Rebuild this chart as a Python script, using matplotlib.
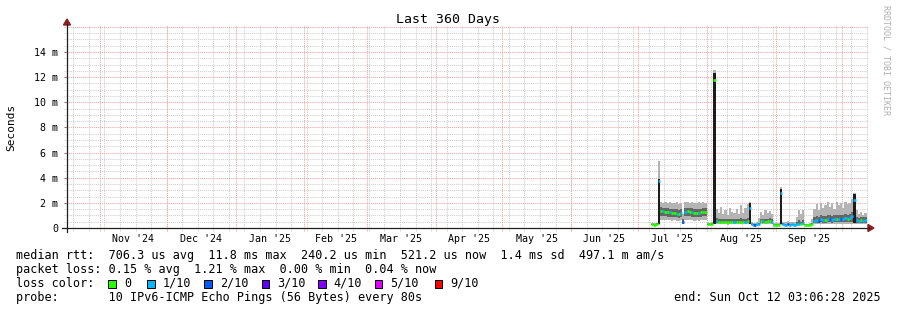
import datetime as dt
import matplotlib
matplotlib.use("Agg")
import matplotlib.pyplot as plt
import matplotlib.dates as mdates
from matplotlib.patches import Polygon, Rectangle
from matplotlib.lines import Line2D
import numpy as np

plt.rcParams['font.family'] = 'DejaVu Sans Mono'

W, H = 897, 310

# one value per day, 2025-07-07 .. 2025-10-11, in ms
median = [0.28, 0.27, 0.28, 3.70, 1.35, 1.33, 1.30, 1.28, 1.25, 1.22,
          1.18, 1.15, 1.12, 1.18, 0.50, 1.30, 1.32, 1.28, 1.25, 1.22,
          1.20, 1.22, 1.25, 1.28, 1.30, 0.30, 0.28, 0.30, 11.8, 0.55,
          0.48, 0.50, 0.47, 0.49, 0.46, 0.48, 0.50, 0.47, 0.49, 0.48,
          0.50, 0.47, 0.49, 0.55, 1.60, 0.28, 0.27, 0.28, 0.30, 0.52,
          0.55, 0.50, 0.53, 0.56, 0.50, 0.26, 0.25, 0.26, 2.80, 0.28,
          0.27, 0.28, 0.27, 0.28, 0.27, 0.30, 0.35, 0.32, 0.38, 0.24,
          0.23, 0.24, 0.30, 0.55, 0.62, 0.58, 0.70, 0.65, 0.60, 0.68,
          0.72, 0.66, 0.70, 0.75, 0.68, 0.72, 0.70, 0.78, 0.72, 0.80,
          0.95, 2.20, 0.65, 0.55, 0.62, 0.58, 0.60]
loss = [0, 0, 0, 1, 0, 1, 0, 0, 1, 0,
        0, 1, 0, 1, 2, 1, 0, 0, 1, 0,
        0, 1, 0, 0, 0, 0, 0, 0, 0, 1,
        0, 0, 0, 0, 0, 0, 0, 1, 0, 0,
        0, 0, 1, 0, 1, 1, 2, 1, 1, 0,
        1, 0, 0, 0, 1, 0, 0, 0, 1, 1,
        1, 2, 1, 1, 1, 1, 1, 0, 1, 0,
        0, 0, 0, 1, 1, 2, 1, 1, 0, 1,
        2, 1, 1, 0, 1, 2, 1, 1, 0, 1,
        1, 1, 1, 1, 0, 1, 1]
smoke_lo = [0.24, 0.24, 0.24, 0.26, 0.60, 0.62, 0.60, 0.62, 0.60, 0.58,
            0.60, 0.58, 0.56, 0.60, 0.28, 0.62, 0.62, 0.60, 0.60, 0.58,
            0.60, 0.58, 0.60, 0.62, 0.60, 0.24, 0.24, 0.25, 0.30, 0.30,
            0.28, 0.30, 0.28, 0.28, 0.27, 0.28, 0.30, 0.28, 0.28, 0.28,
            0.30, 0.28, 0.29, 0.30, 0.30, 0.24, 0.24, 0.24, 0.25, 0.28,
            0.30, 0.28, 0.30, 0.30, 0.28, 0.23, 0.23, 0.23, 0.26, 0.24,
            0.24, 0.24, 0.24, 0.24, 0.24, 0.25, 0.26, 0.25, 0.26, 0.22,
            0.22, 0.22, 0.23, 0.30, 0.30, 0.30, 0.32, 0.30, 0.30, 0.32,
            0.32, 0.30, 0.32, 0.33, 0.30, 0.32, 0.32, 0.33, 0.32, 0.33,
            0.35, 0.35, 0.30, 0.30, 0.30, 0.30, 0.30]
smoke_hi = [0.40, 0.38, 0.42, 5.30, 2.05, 2.00, 2.10, 2.00, 2.05, 1.95,
            2.00, 2.05, 1.90, 2.00, 1.10, 2.05, 2.10, 2.00, 2.05, 1.95,
            2.00, 2.05, 2.00, 2.10, 2.00, 0.45, 0.42, 0.50, 12.6, 1.50,
            1.20, 1.70, 1.10, 1.40, 1.00, 1.60, 1.30, 1.20, 1.50, 1.10,
            1.80, 1.20, 1.60, 1.90, 2.05, 0.45, 0.40, 0.50, 0.80, 1.30,
            1.00, 1.40, 1.20, 1.35, 1.10, 0.40, 0.38, 0.42, 3.30, 0.50,
            0.45, 0.55, 0.45, 0.50, 0.48, 0.90, 1.40, 1.10, 1.40, 0.35,
            0.32, 0.36, 0.70, 1.50, 1.90, 1.40, 2.00, 1.60, 1.80, 2.10,
            1.70, 2.00, 1.50, 2.10, 1.80, 2.00, 1.60, 2.10, 1.90, 2.00,
            2.30, 2.80, 1.40, 1.10, 1.30, 1.00, 1.20]
core_lo = [0.26, 0.26, 0.26, 0.30, 0.95, 0.95, 0.92, 0.90, 0.90, 0.88,
           0.85, 0.85, 0.82, 0.85, 0.35, 0.95, 0.95, 0.92, 0.90, 0.90,
           0.88, 0.88, 0.90, 0.92, 0.95, 0.26, 0.26, 0.27, 0.35, 0.40,
           0.38, 0.38, 0.36, 0.37, 0.36, 0.37, 0.38, 0.36, 0.37, 0.36,
           0.38, 0.36, 0.37, 0.40, 0.35, 0.26, 0.25, 0.26, 0.27, 0.36,
           0.38, 0.36, 0.37, 0.38, 0.36, 0.24, 0.24, 0.24, 0.30, 0.26,
           0.25, 0.26, 0.25, 0.26, 0.25, 0.27, 0.30, 0.28, 0.30, 0.23,
           0.23, 0.23, 0.26, 0.40, 0.42, 0.40, 0.45, 0.43, 0.42, 0.44,
           0.45, 0.43, 0.45, 0.46, 0.44, 0.45, 0.45, 0.47, 0.45, 0.48,
           0.50, 0.40, 0.42, 0.40, 0.42, 0.40, 0.41]
core_hi = [0.35, 0.33, 0.36, 3.90, 1.65, 1.60, 1.60, 1.58, 1.55, 1.52,
           1.50, 1.48, 1.45, 1.50, 0.70, 1.62, 1.62, 1.60, 1.58, 1.55,
           1.52, 1.55, 1.55, 1.60, 1.60, 0.35, 0.33, 0.36, 12.3, 0.80,
           0.70, 0.75, 0.70, 0.72, 0.68, 0.74, 0.75, 0.70, 0.73, 0.70,
           0.76, 0.70, 0.74, 0.80, 2.00, 0.34, 0.33, 0.34, 0.40, 0.72,
           0.75, 0.70, 0.74, 0.76, 0.70, 0.30, 0.30, 0.31, 3.10, 0.36,
           0.34, 0.35, 0.33, 0.35, 0.34, 0.45, 0.60, 0.50, 0.65, 0.28,
           0.27, 0.28, 0.40, 0.85, 0.95, 0.90, 1.00, 0.95, 0.92, 1.00,
           1.05, 0.98, 1.00, 1.05, 1.00, 1.05, 1.02, 1.10, 1.05, 1.10,
           1.30, 2.70, 0.90, 0.80, 0.88, 0.85, 0.86]
spike_days = ["2025-07-10", "2025-08-04", "2025-08-20", "2025-09-03", "2025-10-06"]

loss_labels = ["0", "1/10", "2/10", "3/10", "4/10", "5/10", "9/10"]
loss_colors = ["#26ff00", "#00b8ff", "#0059ff", "#5e00ff", "#7e00ff", "#dd00ff", "#ff0000"]
loss_steps = [0, 1, 2, 3, 4, 5, 9]

t_start = dt.datetime(2024, 10, 17, 3, 6, 28)
t_end = dt.datetime(2025, 10, 12, 3, 6, 28)

day0 = dt.datetime(2025, 7, 7)
edges = mdates.date2num([day0 + dt.timedelta(days=i) for i in range(len(median) + 1)])


def fx(x):
    return x / W


def fy(y):
    return 1 - y / H


fig = plt.figure(figsize=(W / 100, H / 100), dpi=100)
fig.patch.set_facecolor("white")
top_px = 25
ax = fig.add_axes([fx(67), fy(228), 800 / W, (228 - top_px) / H])
ymax = (228 - top_px) / 12.571
x0, x1 = mdates.date2num(t_start), mdates.date2num(t_end)
ax.set_xlim(x0, x1)
ax.set_ylim(0, ymax)
for s in ax.spines.values():
    s.set_visible(False)

# grid, light dotted lines
minor_c = "#cfcfcf"
major_c = "#f0a4a4"
ext = 3 * (x1 - x0) / 800
yext = 3 / 12.571


def dotted(xs, ys, col):
    ln = Line2D(xs, ys, color=col, lw=0.75, zorder=1, clip_on=False)
    ln.set_dashes([1.0, 1.0])
    ax.add_line(ln)


for v in np.arange(0.5, ymax, 0.5):
    major = abs(v % 2) < 1e-9
    dotted([x0 - ext, x1], [v, v], major_c if major else minor_c)
weeks = []
d = dt.datetime(2024, 10, 20)
while d < t_end:
    weeks.append(d)
    d += dt.timedelta(days=7)
for w in mdates.date2num(weeks):
    dotted([w, w], [-yext, ymax], minor_c)
months = []
mid_months = []
labels = []
y, m = 2024, 10
while True:
    a = dt.datetime(y, m, 1)
    b = dt.datetime(y + (m == 12), m % 12 + 1, 1)
    if a > t_end:
        break
    if a > t_start:
        months.append(a)
    mid = a + (b - a) / 2
    if t_start < mid < t_end:
        mid_months.append(mid)
        labels.append(a.strftime("%b '%y"))
    y, m = b.year, b.month
for mo in mdates.date2num(months):
    dotted([mo, mo], [-yext, ymax], major_c)

# smoke
ax.stairs(smoke_hi, edges, baseline=smoke_lo, fill=True, color="#b4b4b4", lw=0, zorder=2)
ax.stairs(core_hi, edges, baseline=core_lo, fill=True, color="#666666", lw=0, zorder=3)
spike_idx = [(dt.datetime.strptime(s, "%Y-%m-%d") - day0).days for s in spike_days]
ax.bar(edges[spike_idx], np.array(core_hi)[spike_idx] - np.array(core_lo)[spike_idx],
       bottom=np.array(core_lo)[spike_idx], width=1, align="edge",
       color="#1c1c1c", lw=0, zorder=4)

# median coloured by loss: flat step per day, joined only inside calm runs
med = np.array(median)
ls = np.array(loss)
cols = [loss_colors[loss_steps.index(k)] for k in ls]
ax.hlines(med, edges[:-1], edges[1:], colors=cols, lw=1.9, zorder=5)
for i in range(1, len(med)):
    if ls[i] == ls[i - 1] and abs(med[i] - med[i - 1]) < 0.5:
        ax.vlines(edges[i], med[i - 1], med[i], colors=cols[i], lw=1.9, zorder=5)

ax.set_yticks(range(0, 15, 2))
ax.set_yticklabels(["0"] + ["%d m" % v for v in range(2, 15, 2)])
ax.tick_params(axis="y", length=2, color="#909090", pad=4.5, labelsize=7.2)
ax.set_xticks(mdates.date2num(mid_months))
ax.set_xticklabels(labels)
ax.tick_params(axis="x", length=0, pad=4, labelsize=7.2)

# axes with arrows
fig.add_artist(Line2D([fx(62), fx(869)], [fy(228), fy(228)], color="#202020", lw=0.9))
fig.add_artist(Line2D([fx(67), fx(67)], [fy(232), fy(24)], color="#202020", lw=0.9))
fig.add_artist(Polygon([(fx(868), fy(224.5)), (fx(868), fy(231.5)), (fx(874), fy(228))],
                       closed=True, color="#8b1f1f", transform=fig.transFigure))
fig.add_artist(Polygon([(fx(63.5), fy(25)), (fx(70.5), fy(25)), (fx(67), fy(19))],
                       closed=True, color="#8b1f1f", transform=fig.transFigure))

fig.text(fx(448), fy(23.5), "Last 360 Days", ha="center", va="baseline", fontsize=9.5)
fig.text(fx(11), fy(127), "Seconds", rotation=90, ha="center", va="center", fontsize=8)
fig.text(fx(886), fy(5), "RRDTOOL / TOBI OETIKER", rotation=270, ha="center", va="top",
         fontsize=6, color="#b0b0b0")

fs = 8.5
fig.text(fx(16), fy(258.5), "median rtt:  706.3 us avg  11.8 ms max  240.2 us min  "
         "521.2 us now  1.4 ms sd  497.1 m am/s", fontsize=fs, va="baseline")
fig.text(fx(16), fy(272.5), "packet loss: 0.15 % avg  1.21 % max  0.00 % min  0.04 % now",
         fontsize=fs, va="baseline")
fig.text(fx(16), fy(286.8), "loss color:", fontsize=fs, va="baseline")
box_x = [108.3, 147.3, 204.3, 262, 318.3, 375, 435]
for bx, col, lab in zip(box_x, loss_colors, loss_labels):
    fig.add_artist(Rectangle((fx(bx), fy(287.5)), 7.4 / W, 7.4 / H, facecolor=col,
                             edgecolor="black", lw=0.7, transform=fig.transFigure))
    fig.text(fx(bx + 15.5), fy(286.8), lab, fontsize=fs, va="baseline")
fig.text(fx(16), fy(301), "probe:       10 IPv6-ICMP Echo Pings (56 Bytes) every 80s",
         fontsize=fs, va="baseline")
fig.text(fx(881), fy(301), "end: Sun Oct 12 03:06:28 2025", fontsize=fs, va="baseline", ha="right")

fig.savefig("out.png", dpi=100)
